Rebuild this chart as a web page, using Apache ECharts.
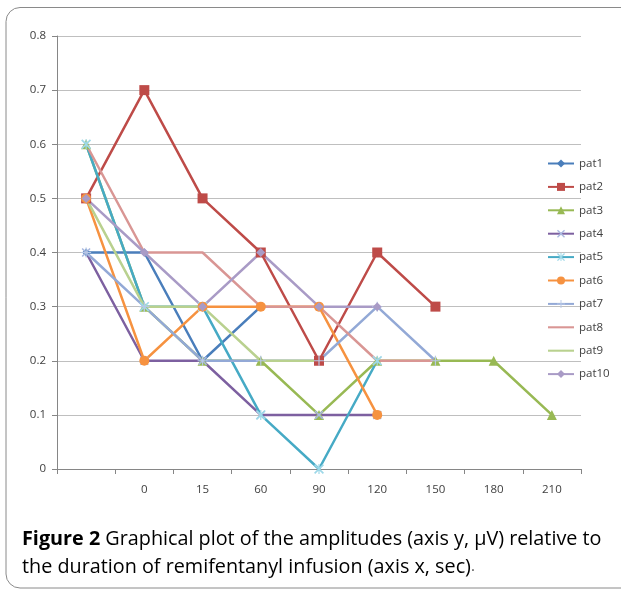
<!DOCTYPE html>
<html><head><meta charset="utf-8">
<script src="https://cdn.jsdelivr.net/npm/echarts@6/dist/echarts.min.js"></script>
<style>html,body{margin:0;padding:0;background:#fff}#c{width:621px;height:590px}</style>
</head><body><div id="c"></div>
<script>
const categories = ['', '0', '15', '60', '90', '120', '150', '180', '210'];
const yTicks = [0, 0.1, 0.2, 0.3, 0.4, 0.5, 0.6, 0.7, 0.8];
const seriesNames = ['pat1','pat2','pat3','pat4','pat5','pat6','pat7','pat8','pat9','pat10'];
const pat1 = [0.4, 0.4, 0.2, 0.3];
const pat2 = [0.5, 0.7, 0.5, 0.4, 0.2, 0.4, 0.3];
const pat3 = [0.6, 0.3, 0.2, 0.2, 0.1, 0.2, 0.2, 0.2, 0.1];
const pat4 = [0.4, 0.2, 0.2, 0.1, 0.1, 0.1];
const pat5 = [0.6, 0.3, 0.3, 0.1, 0.0, 0.2];
const pat6 = [0.5, 0.2, 0.3, 0.3, 0.3, 0.1];
const pat7 = [0.4, 0.3, 0.2, 0.2, 0.2, 0.3, 0.2];
const pat8 = [0.6, 0.4, 0.4, 0.3, 0.3, 0.2, 0.2];
const pat9 = [0.5, 0.3, 0.3, 0.2, 0.2];
const pat10 = [0.5, 0.4, 0.3, 0.4, 0.3, 0.3];
const captionBold = 'Figure 2';
const captionLine1 = ' Graphical plot of the amplitudes (axis y, \u03bcV) relative to';
const captionLine2 = 'the duration of remifentanyl infusion (axis x, sec)';

const colors = ['#4A7EBB','#BE4B48','#98B954','#7D60A0','#46AAC5','#F69240','#93A9D6','#D99694','#B9D18F','#A99BC6'];
const X = 'path://M0,1.2 L1.2,0 L5,3.8 L8.8,0 L10,1.2 L6.2,5 L10,8.8 L8.8,10 L5,6.2 L1.2,10 L0,8.8 L3.8,5 Z';
const PLUS = 'path://M4.4,0 H5.6 V4.4 H10 V5.6 H5.6 V10 H4.4 V5.6 H0 V4.4 H4.4 Z';
const STAR = 'path://M0,1.2 L1.2,0 L5,3.8 L8.8,0 L10,1.2 L6.2,5 L10,8.8 L8.8,10 L5,6.2 L1.2,10 L0,8.8 L3.8,5 Z M4.4,0 H5.6 V10 H4.4 Z';
const BAR = 'path://M0,4.6 H10 V5.4 H0 Z';
const symbols = ['diamond','rect','triangle',X,STAR,'circle',PLUS,'none','none','diamond'];
const sizes = [8,10,10,9,10,10,10,0,0,9];
const symColors = ['#4A7EBB','#BE4B48','#98B954','#A9B8E0','#9ED8E8','#F69240','#B8C8E6','#D99694','#B9D18F','#A99BC6'];
const allData = [pat1,pat2,pat3,pat4,pat5,pat6,pat7,pat8,pat9,pat10];

const series = seriesNames.map((n,i)=>({
  name:n, type:'line', data:allData[i],
  symbol:symbols[i], symbolSize:sizes[i], showSymbol: symbols[i]!=='none',
  lineStyle:{color:colors[i], width:2.5},
  itemStyle:{color:symColors[i], borderWidth:0},
  color:colors[i],
  emphasis:{disabled:true}, animation:false
}));

const legendData = seriesNames.map((n,i)=> symbols[i]==='none' ? {name:n, icon:BAR} : {name:n});

const chart = echarts.init(document.getElementById('c'), null, {renderer:'canvas'});
chart.setOption({
  animation:false,
  grid:{left:57, right:40, top:36, bottom:121, containLabel:false},
  xAxis:{type:'category', data:categories, boundaryGap:true,
    axisLine:{lineStyle:{color:'#868686', width:1}},
    axisTick:{show:true, alignWithLabel:false, length:5, lineStyle:{color:'#868686'}},
    axisLabel:{color:'#404040', fontSize:11.5, fontFamily:'Open Sans', margin:15},
    splitLine:{show:false}},
  yAxis:{type:'value', min:0, max:0.8, interval:0.1,
    axisLine:{show:true, lineStyle:{color:'#868686', width:1}},
    axisTick:{show:true, length:5, lineStyle:{color:'#868686'}},
    axisLabel:{color:'#404040', fontSize:11.5, fontFamily:'Open Sans', margin:11,
      formatter:v=>{const t=yTicks.find(x=>Math.abs(x-v)<1e-9); return t===0?'0':(t!==undefined?t.toFixed(1):'');}},
    splitLine:{show:true, lineStyle:{color:'#BFBFBF', width:1}}},
  legend:{orient:'vertical', left:547, top:157.5, padding:0, itemWidth:26, itemHeight:10, itemGap:11.4,
    textStyle:{color:'#404040', fontSize:11.5, fontFamily:'Open Sans'},
    data:legendData},
  series:series,
  graphic:[
    {type:'rect', shape:{x:6, y:7.5, width:700, height:580.5, r:14}, style:{fill:'none', stroke:'#8a8a8a', lineWidth:1}},
    {type:'text', left:22, top:529, style:{
      text:'{b|'+captionBold+'}{n|'+captionLine1+'}', rich:{
        b:{fontFamily:'Open Sans', fontWeight:'bold', fontSize:19.8, fill:'#000'},
        n:{fontFamily:'Open Sans', fontSize:19.8, fill:'#000'}}}},
    {type:'text', left:22, top:557, style:{
      text:'{n|'+captionLine2+'}{d|.}', rich:{
        n:{fontFamily:'Open Sans', fontSize:19.8, fill:'#000'},
        d:{fontFamily:'Open Sans', fontSize:15, fill:'#555'}}}}
  ]
});
</script></body></html>
